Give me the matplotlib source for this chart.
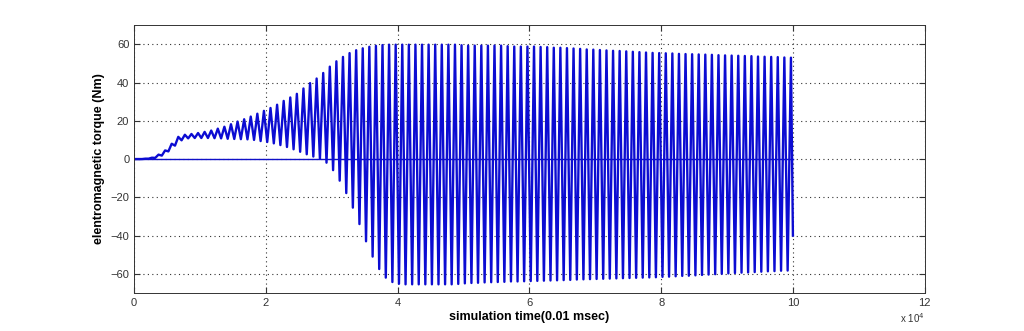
import matplotlib.pyplot as plt
import numpy as np

plt.rcParams['font.family'] = ['Liberation Sans', 'DejaVu Sans']

# peak torque of each 1000-sample cycle (upper swing near k*1000+700)
upper = [0.0, 0.2, 0.7, 2.3, 4.5, 8.0, 11.6, 12.7, 13.1, 13.6,
         14.2, 14.9, 15.9, 16.9, 18.2, 19.6, 20.8, 22.2, 23.7, 25.2,
         26.7, 28.4, 30.4, 32.2, 34.1, 36.9, 39.7, 42.1, 45.0, 48.3,
         51.1, 53.4, 55.4, 56.9, 57.9, 58.7, 59.2, 59.6, 59.8, 59.8,
         59.8, 59.8, 59.8, 59.8, 59.8, 59.8, 59.8, 59.8, 59.8, 59.5,
         59.3, 59.3, 59.3, 59.3, 59.3, 59.3, 59.0, 58.8, 58.8, 58.8,
         58.8, 58.6, 58.5, 58.2, 58.2, 58.0, 57.8, 57.6, 57.3, 57.2,
         57.0, 56.8, 56.6, 56.5, 56.3, 56.1, 55.9, 55.7, 55.5, 55.4,
         55.3, 55.2, 55.0, 54.9, 54.8, 54.7, 54.6, 54.5, 54.3, 54.2,
         54.1, 54.0, 53.9, 53.8, 53.6, 53.5, 53.4, 53.3, 53.1, 53.0]

# trough of each cycle (lower swing near k*1000+200)
lower = [0.0, 0.0, 0.2, 0.6, 1.8, 4.0, 7.0, 9.8, 10.8, 11.0,
         11.0, 11.0, 10.9, 10.8, 10.6, 10.5, 10.4, 10.3, 10.0, 9.4,
         8.9, 8.2, 7.3, 6.3, 5.1, 3.8, 2.5, 1.3, 0.1, -1.9,
         -5.8, -11.3, -17.8, -25.4, -34.0, -43.0, -51.0, -57.5, -62.0, -64.3,
         -65.2, -65.5, -65.5, -65.5, -65.5, -65.5, -65.5, -65.5, -65.5, -65.3,
         -65.0, -64.8, -64.7, -64.5, -64.4, -64.3, -64.2, -64.0, -64.0, -63.9,
         -63.8, -63.7, -63.6, -63.5, -63.4, -63.3, -63.2, -63.0, -62.9, -62.8,
         -62.7, -62.6, -62.5, -62.4, -62.3, -62.2, -62.1, -62.0, -61.9, -61.8,
         -61.6, -61.5, -61.3, -61.1, -61.0, -60.8, -60.6, -60.4, -60.2, -60.0,
         -59.8, -59.6, -59.4, -59.3, -59.1, -58.9, -58.7, -58.6, -58.4, -58.3]

period = 1000
t_end = 100000
torque_end = -40.0

# zigzag through troughs and peaks
k = np.arange(len(upper))
t = np.column_stack([k * period + 200, k * period + 700]).ravel()
y = np.column_stack([lower, upper]).ravel()
t = np.concatenate([[0], t, [t_end]])
y = np.concatenate([[0.0], y, [torque_end]])

fig = plt.figure(figsize=(10.24, 3.31), dpi=100)
ax = fig.add_axes([0.131, 0.115, 0.772, 0.809])
ax.plot([0, t_end], [0, 0], color='#1010c8', lw=1.0)
ax.plot(t, y, color='#0c0cd2', lw=1.7)

ax.set_xlim(0, 120000)
ax.set_ylim(-70, 70)
ax.set_xticks(np.arange(0, 120001, 20000))
ax.set_xticklabels([str(v) for v in range(0, 13, 2)])
ax.set_yticks(np.arange(-60, 61, 20))
ax.grid(True, color='#333333', linestyle=(0, (1, 3)), linewidth=0.8)
ax.tick_params(direction='in', top=True, right=True, labelsize=8, colors='#333333', length=4)
for s in ax.spines.values():
    s.set_linewidth(0.7)
    s.set_color('#333333')

ax.set_xlabel('simulation time(0.01 msec)', fontsize=9, fontweight='bold', labelpad=2)
ax.set_ylabel('elentromagnetic torque (Nm)', fontsize=9, fontweight='bold', labelpad=4)
ax.text(1.0, -0.113, r'x 10$^4$', transform=ax.transAxes, ha='right', va='baseline', fontsize=7, color='#333333')

fig.savefig('out.png', dpi=100)
